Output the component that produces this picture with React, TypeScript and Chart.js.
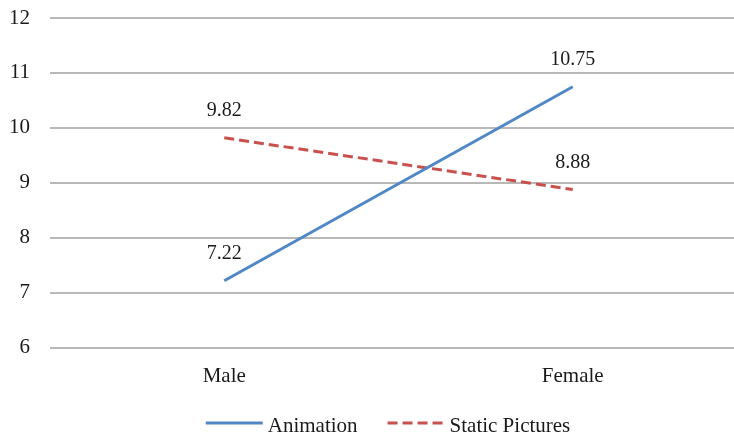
import React, { useEffect, useRef } from "react";
import { Chart, registerables } from "chart.js";

Chart.register(...registerables);

const categories = ["Male", "Female"];
const animationValues = [7.22, 10.75];
const staticValues = [9.82, 8.88];
const seriesNames = ["Animation", "Static Pictures"];
const yTicks = [6, 7, 8, 9, 10, 11, 12];

const BLUE = "#5087C6";
const RED = "#C8504D";
const FONT = "'Liberation Serif', 'Times New Roman', serif";

const labelPlugin = {
  id: "valueLabels",
  afterDatasetsDraw(chart: any) {
    const ctx = chart.ctx;
    ctx.save();
    ctx.font = `20px ${FONT}`;
    ctx.fillStyle = "#1a1a1a";
    ctx.textAlign = "center";
    ctx.textBaseline = "middle";
    chart.data.datasets.forEach((ds: any, i: number) => {
      const meta = chart.getDatasetMeta(i);
      meta.data.forEach((pt: any, j: number) => {
        ctx.fillText(Number(ds.data[j]).toFixed(2), pt.x, pt.y - 27);
      });
    });
    ctx.restore();
  },
};

const legendPlugin = {
  id: "bottomLegend",
  afterDraw(chart: any) {
    const ctx = chart.ctx;
    ctx.save();
    ctx.font = `21px ${FONT}`;
    const lineW = 57;
    const gapText = 5;
    const gapItem = 30;
    const items = chart.data.datasets.map((ds: any) => ({
      text: ds.label,
      color: ds.borderColor,
      dash: ds.borderDash || [],
      w: ctx.measureText(ds.label).width,
    }));
    const total =
      items.reduce((s: number, it: any) => s + lineW + gapText + it.w, 0) +
      gapItem * (items.length - 1);
    let x = 388 - total / 2;
    const y = 423;
    items.forEach((it: any) => {
      ctx.beginPath();
      ctx.setLineDash(it.dash);
      ctx.lineWidth = 3;
      ctx.strokeStyle = it.color;
      ctx.moveTo(x, y);
      ctx.lineTo(x + lineW, y);
      ctx.stroke();
      ctx.setLineDash([]);
      ctx.fillStyle = "#1a1a1a";
      ctx.textAlign = "left";
      ctx.textBaseline = "alphabetic";
      ctx.fillText(it.text, x + lineW + gapText, 432);
      x += lineW + gapText + it.w + gapItem;
    });
    ctx.restore();
  },
};

export default function App() {
  const ref = useRef<HTMLCanvasElement>(null);
  useEffect(() => {
    if (!ref.current) return;
    const chart = new Chart(ref.current, {
      type: "line",
      data: {
        labels: categories,
        datasets: [
          {
            label: seriesNames[0],
            data: animationValues,
            borderColor: BLUE,
            backgroundColor: BLUE,
            borderWidth: 3,
            pointRadius: 0,
            tension: 0,
          },
          {
            label: seriesNames[1],
            data: staticValues,
            borderColor: RED,
            backgroundColor: RED,
            borderWidth: 3,
            borderDash: [10, 5],
            pointRadius: 0,
            tension: 0,
          },
        ],
      },
      options: {
        animation: false,
        responsive: false,
        layout: { padding: { top: 18, bottom: 29, left: 0, right: 3 } },
        plugins: {
          legend: { display: false },
          tooltip: { enabled: false },
        },
        scales: {
          x: {
            offset: true,
            grid: { display: false, drawTicks: false },
            border: { display: false },
            ticks: {
              padding: 16,
              color: "#1a1a1a",
              font: { family: FONT, size: 21 },
            },
          },
          y: {
            min: yTicks[0],
            max: yTicks[yTicks.length - 1],
            afterFit: (scale: any) => {
              scale.width = 50;
              scale.paddingTop = 0;
              scale.paddingBottom = 0;
            },
            afterBuildTicks: (scale: any) => {
              scale.ticks = yTicks.map((v) => ({ value: v }));
            },
            grid: { color: "#b8b8b8", lineWidth: 2, drawTicks: false },
            border: { display: false },
            ticks: {
              padding: 20,
              color: "#1a1a1a",
              font: { family: FONT, size: 21 },
            },
          },
        },
      },
      plugins: [labelPlugin, legendPlugin],
    });
    return () => chart.destroy();
  }, []);
  return (
    <div style={{ position: "absolute", left: 0, top: 0, width: 750, height: 434 }}>
      <canvas ref={ref} width={750} height={434} />
    </div>
  );
}
